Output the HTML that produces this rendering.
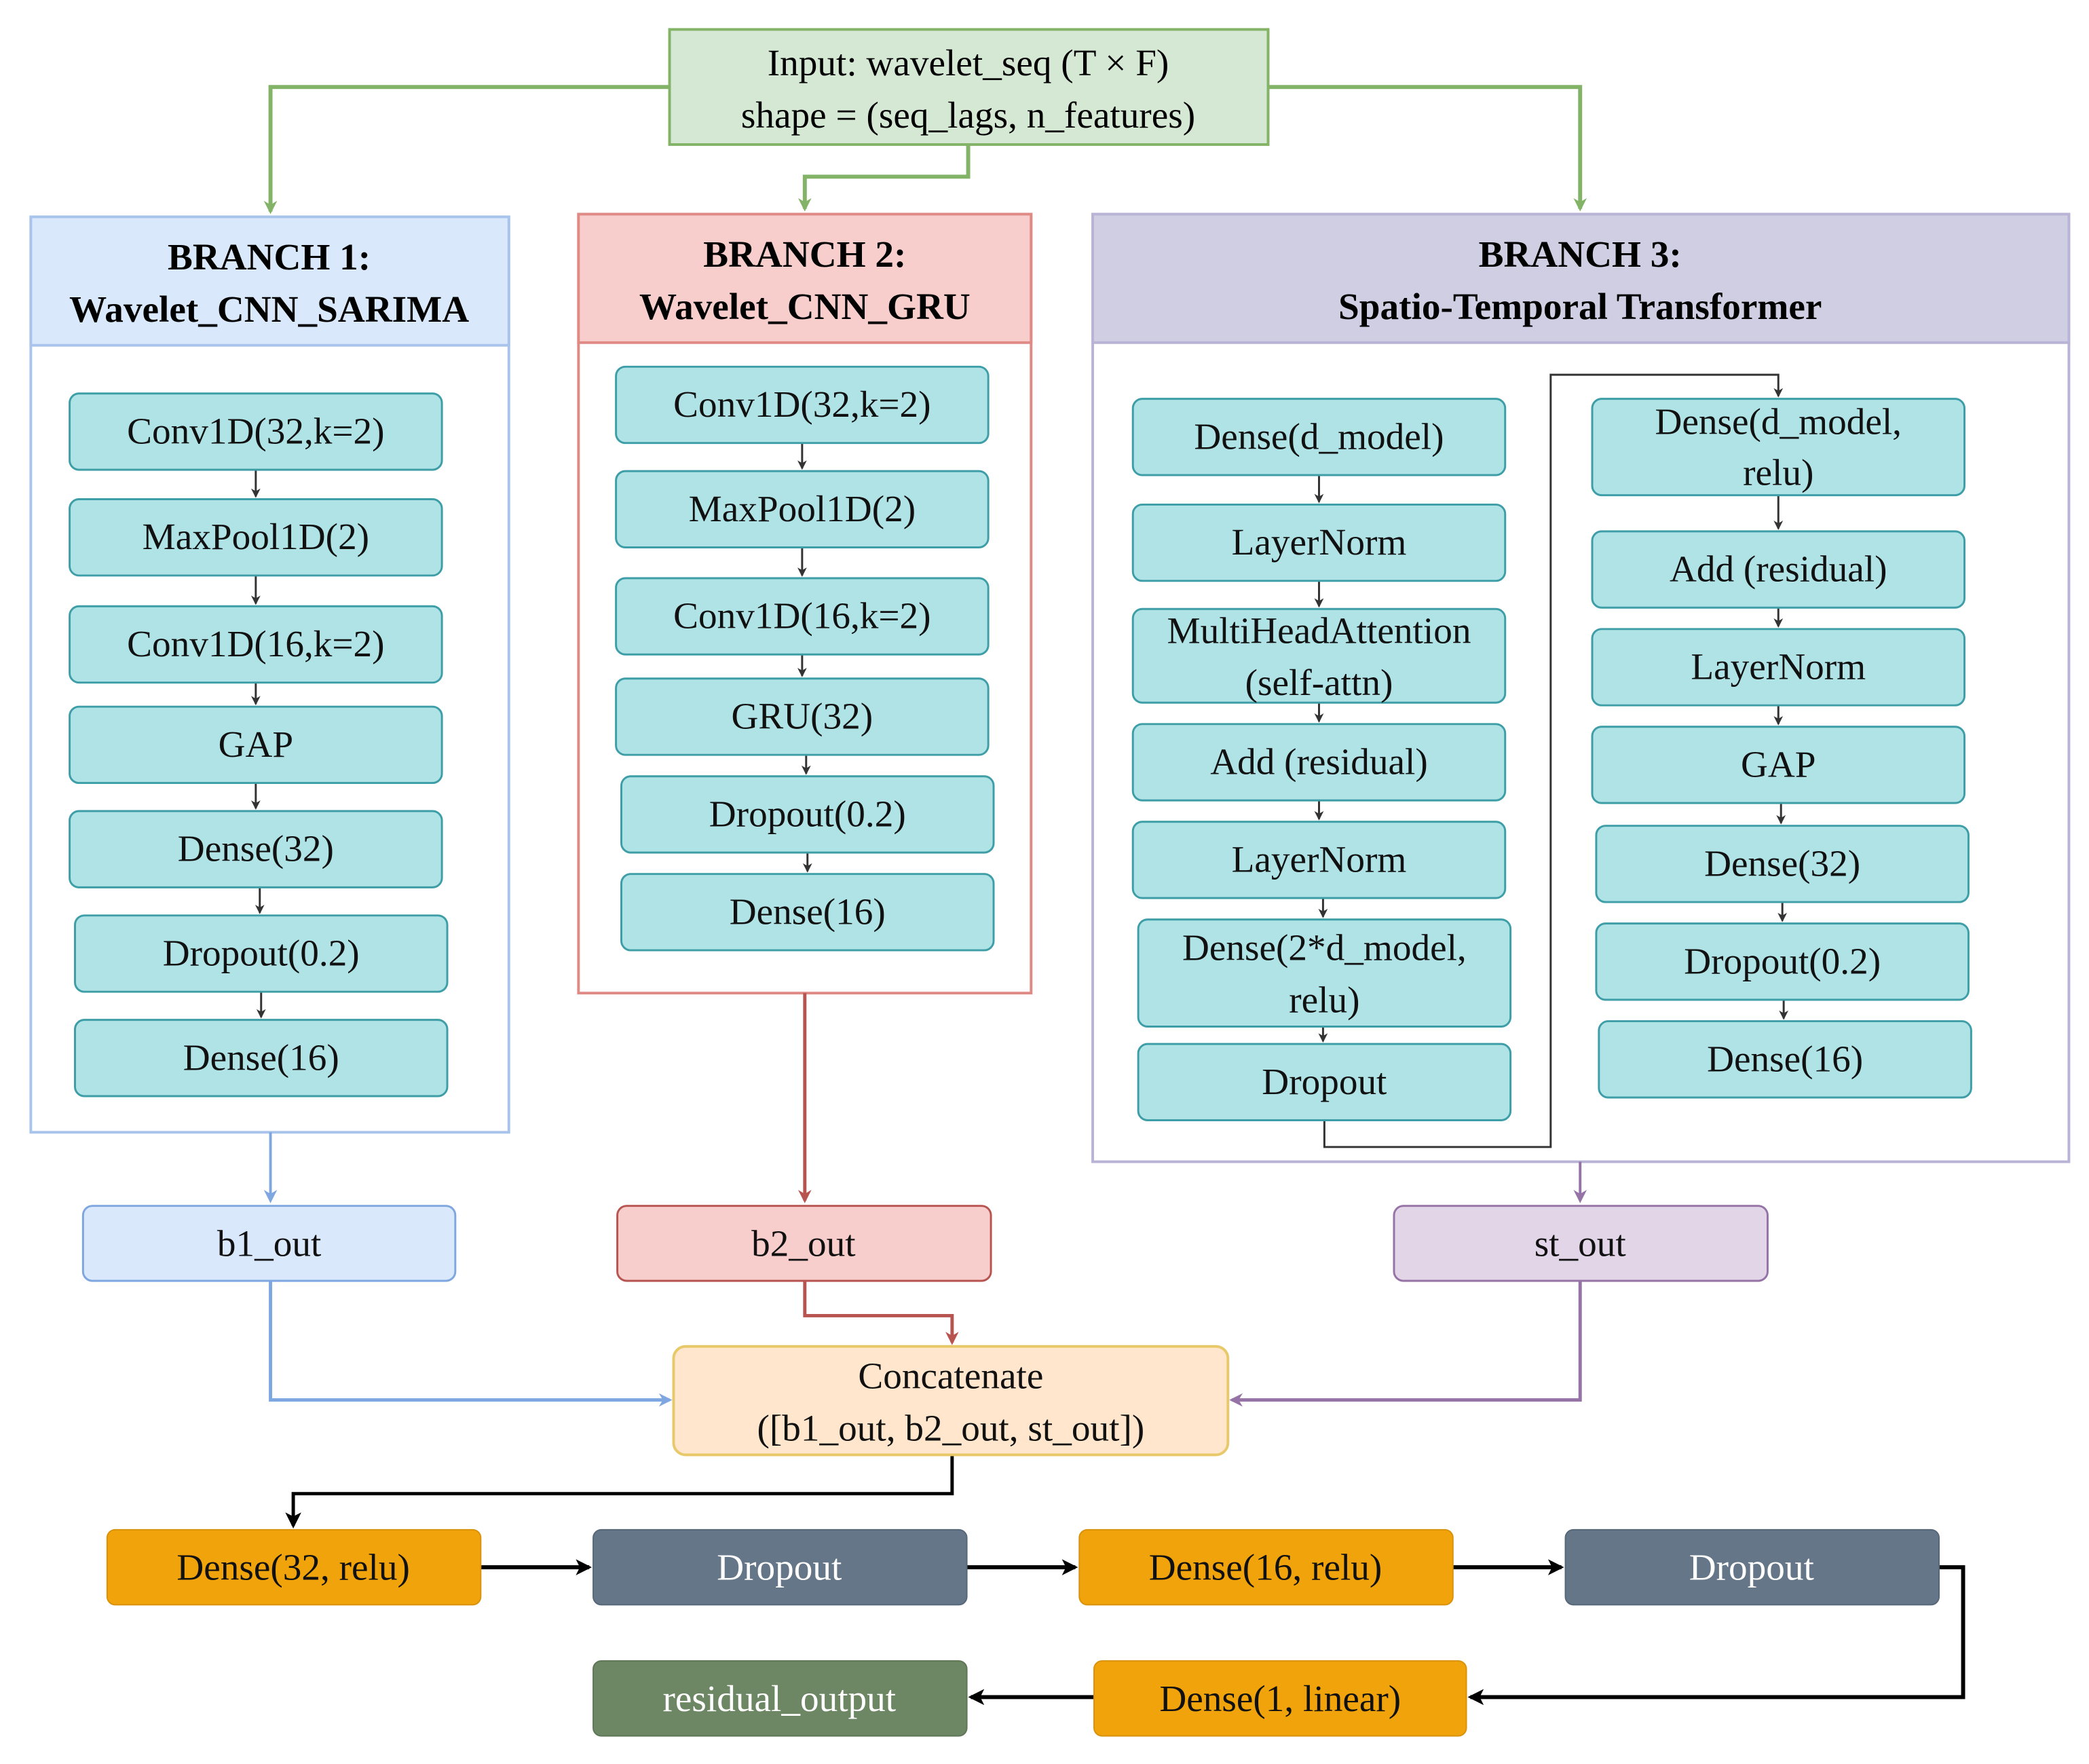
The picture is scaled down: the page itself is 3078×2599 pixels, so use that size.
<!DOCTYPE html>
<html><head><meta charset="utf-8"><style>html,body{margin:0;padding:0;background:#fff}svg{display:block}svg text{font-family:"Liberation Serif","Times New Roman","DejaVu Serif",serif;text-anchor:middle;dominant-baseline:central}</style></head>
<body>
<svg width="3078" height="2599" viewBox="0 0 1560 1318" preserveAspectRatio="none" xmlns="http://www.w3.org/2000/svg" font-family="Liberation Serif, Times New Roman, DejaVu Serif, serif">
<defs>
<marker id="ag" markerWidth="10" markerHeight="10" refX="8" refY="5" orient="auto" markerUnits="userSpaceOnUse"><path d="M0,0 L10,5 L0,10 L3,5z" fill="#82b366"/></marker>
<marker id="ab" markerWidth="10" markerHeight="10" refX="8" refY="5" orient="auto" markerUnits="userSpaceOnUse"><path d="M0,0 L10,5 L0,10 L3,5z" fill="#7ea6e0"/></marker>
<marker id="ar" markerWidth="10" markerHeight="10" refX="8" refY="5" orient="auto" markerUnits="userSpaceOnUse"><path d="M0,0 L10,5 L0,10 L3,5z" fill="#b85450"/></marker>
<marker id="ap" markerWidth="10" markerHeight="10" refX="8" refY="5" orient="auto" markerUnits="userSpaceOnUse"><path d="M0,0 L10,5 L0,10 L3,5z" fill="#9673a6"/></marker>
<marker id="ak" markerWidth="12" markerHeight="12" refX="10" refY="6" orient="auto" markerUnits="userSpaceOnUse"><path d="M0,0 L12,6 L0,12 L3,6z" fill="#000"/></marker>
<marker id="as" markerWidth="7" markerHeight="7" refX="6" refY="3.5" orient="auto" markerUnits="userSpaceOnUse"><path d="M0,0 L7,3.5 L0,7 L2,3.5z" fill="#333"/></marker>
</defs>
<g fill="none" stroke-width="3">
<path d="M500,65 H202 V158" stroke="#82b366" marker-end="url(#ag)"/>
<path d="M723,108 V132 H601 V156" stroke="#82b366" marker-end="url(#ag)"/>
<path d="M947,65 H1180 V156" stroke="#82b366" marker-end="url(#ag)"/>
</g>
<rect x="500" y="22" width="447" height="86" fill="#d5e8d4" stroke="#82b366" stroke-width="2"/>
<text x="723" y="47" font-size="28">Input: wavelet_seq (T × F)</text>
<text x="723" y="86" font-size="28">shape = (seq_lags, n_features)</text>

<rect x="23" y="162" width="357" height="684" fill="#fff" stroke="#a9c4eb" stroke-width="2"/>
<rect x="23" y="162" width="357" height="96" fill="#dae8fc" stroke="#a9c4eb" stroke-width="2"/>
<text x="201" y="192" font-size="28" font-weight="bold">BRANCH 1:</text>
<text x="201" y="231" font-size="28" font-weight="bold">Wavelet_CNN_SARIMA</text>

<rect x="432" y="160" width="338" height="582" fill="#fff" stroke="#e08a85" stroke-width="2"/>
<rect x="432" y="160" width="338" height="96" fill="#f8cecc" stroke="#e08a85" stroke-width="2"/>
<text x="601" y="190" font-size="28" font-weight="bold">BRANCH 2:</text>
<text x="601" y="229" font-size="28" font-weight="bold">Wavelet_CNN_GRU</text>

<rect x="816" y="160" width="729" height="708" fill="#fff" stroke="#b9b3d6" stroke-width="2"/>
<rect x="816" y="160" width="729" height="96" fill="#d0cee2" stroke="#b9b3d6" stroke-width="2"/>
<text x="1180" y="190" font-size="28" font-weight="bold">BRANCH 3:</text>
<text x="1180" y="229" font-size="28" font-weight="bold">Spatio-Temporal Transformer</text>

<g stroke="#333" stroke-width="1.5" fill="none">
<path d="M191,351 V371" marker-end="url(#as)"/><path d="M191,430 V451" marker-end="url(#as)"/><path d="M191,510 V526" marker-end="url(#as)"/><path d="M191,585 V604" marker-end="url(#as)"/><path d="M194,663 V682" marker-end="url(#as)"/><path d="M195,741 V760" marker-end="url(#as)"/>
<path d="M599,331 V350" marker-end="url(#as)"/><path d="M599,409 V430" marker-end="url(#as)"/><path d="M599,489 V505" marker-end="url(#as)"/><path d="M602,564 V578" marker-end="url(#as)"/><path d="M603,637 V651" marker-end="url(#as)"/>
<path d="M985,355 V375" marker-end="url(#as)"/><path d="M985,434 V453" marker-end="url(#as)"/><path d="M985,525 V539" marker-end="url(#as)"/><path d="M985,598 V612" marker-end="url(#as)"/><path d="M988,671 V685" marker-end="url(#as)"/><path d="M988,767 V778" marker-end="url(#as)"/>
<path d="M989,837 V857 H1158 V280 H1328 V296" marker-end="url(#as)"/>
<path d="M1328,370 V395" marker-end="url(#as)"/><path d="M1328,454 V468" marker-end="url(#as)"/><path d="M1328,527 V541" marker-end="url(#as)"/><path d="M1330,600 V615" marker-end="url(#as)"/><path d="M1331,674 V688" marker-end="url(#as)"/><path d="M1332,747 V761" marker-end="url(#as)"/>
</g>

<g fill="#b0e3e6" stroke="#3e9ea8" stroke-width="1.5">
<rect x="52" y="294" width="278" height="57" rx="7"/><rect x="52" y="373" width="278" height="57" rx="7"/><rect x="52" y="453" width="278" height="57" rx="7"/><rect x="52" y="528" width="278" height="57" rx="7"/><rect x="52" y="606" width="278" height="57" rx="7"/><rect x="56" y="684" width="278" height="57" rx="7"/><rect x="56" y="762" width="278" height="57" rx="7"/>
<rect x="460" y="274" width="278" height="57" rx="7"/><rect x="460" y="352" width="278" height="57" rx="7"/><rect x="460" y="432" width="278" height="57" rx="7"/><rect x="460" y="507" width="278" height="57" rx="7"/><rect x="464" y="580" width="278" height="57" rx="7"/><rect x="464" y="653" width="278" height="57" rx="7"/>
<rect x="846" y="298" width="278" height="57" rx="7"/><rect x="846" y="377" width="278" height="57" rx="7"/><rect x="846" y="455" width="278" height="70" rx="7"/><rect x="846" y="541" width="278" height="57" rx="7"/><rect x="846" y="614" width="278" height="57" rx="7"/><rect x="850" y="687" width="278" height="80" rx="7"/><rect x="850" y="780" width="278" height="57" rx="7"/>
<rect x="1189" y="298" width="278" height="72" rx="7"/><rect x="1189" y="397" width="278" height="57" rx="7"/><rect x="1189" y="470" width="278" height="57" rx="7"/><rect x="1189" y="543" width="278" height="57" rx="7"/><rect x="1192" y="617" width="278" height="57" rx="7"/><rect x="1192" y="690" width="278" height="57" rx="7"/><rect x="1194" y="763" width="278" height="57" rx="7"/>
</g>
<g font-size="28" fill="#111">
<text x="191" y="322">Conv1D(32,k=2)</text><text x="191" y="401">MaxPool1D(2)</text><text x="191" y="481">Conv1D(16,k=2)</text><text x="191" y="556">GAP</text><text x="191" y="634">Dense(32)</text><text x="195" y="712">Dropout(0.2)</text><text x="195" y="790">Dense(16)</text>
<text x="599" y="302">Conv1D(32,k=2)</text><text x="599" y="380">MaxPool1D(2)</text><text x="599" y="460">Conv1D(16,k=2)</text><text x="599" y="535">GRU(32)</text><text x="603" y="608">Dropout(0.2)</text><text x="603" y="681">Dense(16)</text>
<text x="985" y="326">Dense(d_model)</text><text x="985" y="405">LayerNorm</text><text x="985" y="471">MultiHeadAttention</text><text x="985" y="510">(self-attn)</text><text x="985" y="569">Add (residual)</text><text x="985" y="642">LayerNorm</text><text x="989" y="708">Dense(2*d_model,</text><text x="989" y="747">relu)</text><text x="989" y="808">Dropout</text>
<text x="1328" y="315">Dense(d_model,</text><text x="1328" y="353">relu)</text><text x="1328" y="425">Add (residual)</text><text x="1328" y="498">LayerNorm</text><text x="1328" y="571">GAP</text><text x="1331" y="645">Dense(32)</text><text x="1331" y="718">Dropout(0.2)</text><text x="1333" y="791">Dense(16)</text>
</g>

<g fill="none" stroke-width="2">
<path d="M202,846 V897" stroke="#7ea6e0" marker-end="url(#ab)"/>
<path d="M601,742 V897" stroke="#b85450" stroke-width="2.5" marker-end="url(#ar)"/>
<path d="M1180,868 V897" stroke="#9673a6" marker-end="url(#ap)"/>
<path d="M202,957 V1046 H500" stroke="#7ea6e0" stroke-width="2.5" marker-end="url(#ab)"/>
<path d="M601,957 V983 H711 V1003" stroke="#b85450" stroke-width="2.5" marker-end="url(#ar)"/>
<path d="M1180,957 V1046 H920" stroke="#9673a6" stroke-width="2.5" marker-end="url(#ap)"/>
<g stroke="#000" stroke-width="3">
<path d="M711,1087 V1116 H219 V1140" stroke-width="2.5" marker-end="url(#ak)"/>
<path d="M359,1171 H440" marker-end="url(#ak)"/>
<path d="M722,1171 H803" marker-end="url(#ak)"/>
<path d="M1085,1171 H1166" marker-end="url(#ak)"/>
<path d="M1448,1171 H1466 V1268 H1098" marker-end="url(#ak)"/>
<path d="M817,1268 H725" marker-end="url(#ak)"/>
</g>
</g>
<rect x="62" y="901" width="278" height="56" rx="7" fill="#dae8fc" stroke="#7ea6e0" stroke-width="1.5"/>
<rect x="461" y="901" width="279" height="56" rx="7" fill="#f8cecc" stroke="#b85450" stroke-width="1.5"/>
<rect x="1041" y="901" width="279" height="56" rx="7" fill="#e1d5e7" stroke="#9673a6" stroke-width="1.5"/>
<rect x="503" y="1006" width="414" height="81" rx="9" fill="#ffe6cc" stroke="#e8c96a" stroke-width="2"/>
<g font-size="28" fill="#111">
<text x="201" y="929">b1_out</text><text x="600" y="929">b2_out</text><text x="1180" y="929">st_out</text>
<text x="710" y="1028">Concatenate</text><text x="710" y="1067">([b1_out, b2_out, st_out])</text>
</g>
<rect x="80" y="1143" width="279" height="56" rx="6" fill="#f0a30a" stroke="#d9920a"/>
<rect x="443" y="1143" width="279" height="56" rx="6" fill="#647687" stroke="#56677a"/>
<rect x="806" y="1143" width="279" height="56" rx="6" fill="#f0a30a" stroke="#d9920a"/>
<rect x="1169" y="1143" width="279" height="56" rx="6" fill="#647687" stroke="#56677a"/>
<rect x="443" y="1241" width="279" height="56" rx="6" fill="#6d8764" stroke="#5e7656"/>
<rect x="817" y="1241" width="278" height="56" rx="6" fill="#f0a30a" stroke="#d9920a"/>
<g font-size="28">
<text x="219" y="1171" fill="#111">Dense(32, relu)</text>
<text x="582" y="1171" fill="#fff">Dropout</text>
<text x="945" y="1171" fill="#111">Dense(16, relu)</text>
<text x="1308" y="1171" fill="#fff">Dropout</text>
<text x="582" y="1269" fill="#fff">residual_output</text>
<text x="956" y="1269" fill="#111">Dense(1, linear)</text>
</g>
</svg>
</body></html>
